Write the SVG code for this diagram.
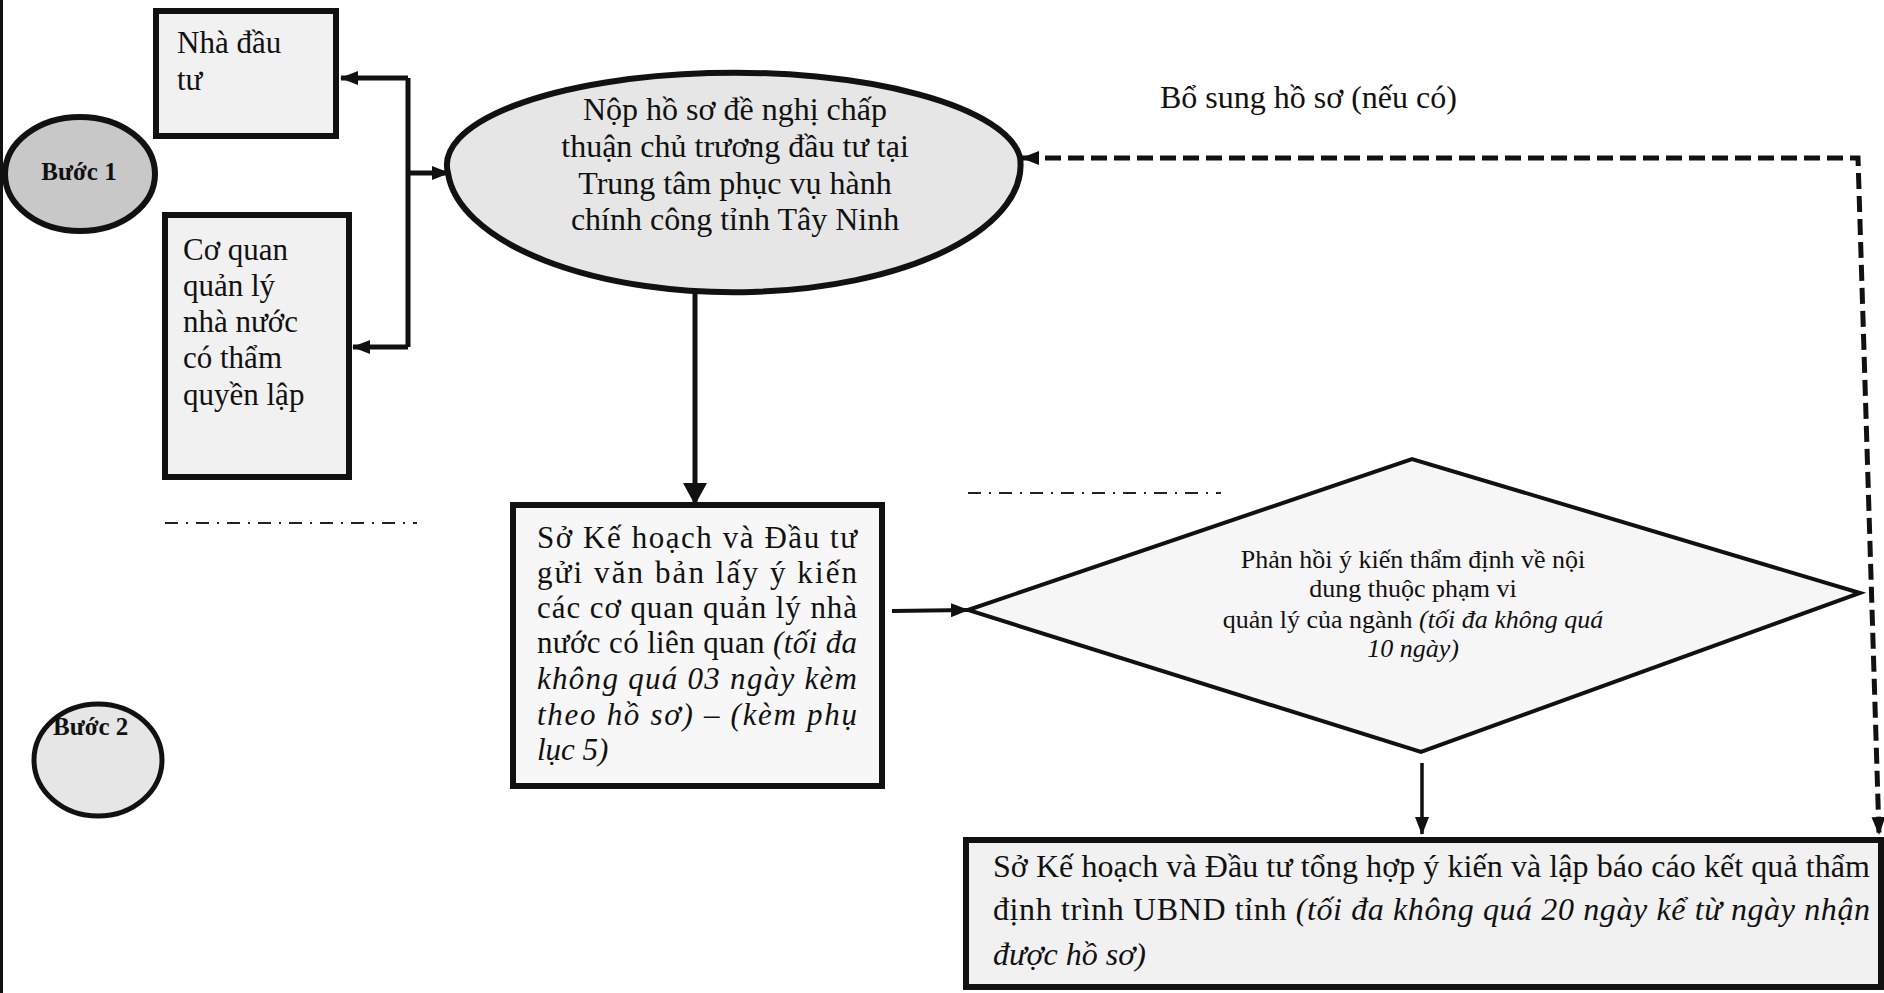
<svg xmlns="http://www.w3.org/2000/svg" width="1884" height="993" viewBox="0 0 1884 993">
  <defs>
    <style>
      .t { font-family: "Liberation Serif", "Times New Roman", serif; fill: #111; }
      .it { font-style: italic; }
      .b { font-weight: bold; }
      .box { fill: #f1f1f1; stroke: #111; stroke-width: 6; }
      .conn { fill: none; stroke: #111; }
      .dashed { fill: none; stroke: #111; stroke-width: 5; stroke-dasharray: 16 7; }
      .dashdot { fill: none; stroke: #222; stroke-width: 2; stroke-dasharray: 13 8 2 8; }
    </style>
    <marker id="arrow" viewBox="0 0 18 14" refX="17" refY="7" markerWidth="18" markerHeight="14" markerUnits="userSpaceOnUse" orient="auto-start-reverse">
      <path d="M0,0 L18,7 L0,14 Z" fill="#111"/>
    </marker>
    <marker id="arrowBig" viewBox="0 0 22 24" refX="21" refY="12" markerWidth="22" markerHeight="24" markerUnits="userSpaceOnUse" orient="auto">
      <path d="M0,0 L22,12 L0,24 Z" fill="#111"/>
    </marker>
  </defs>

  <rect x="0" y="0" width="1884" height="993" fill="#ffffff"/>
  <!-- page margin rule on the left -->
  <line x1="1.5" y1="0" x2="1.5" y2="993" stroke="#111" stroke-width="3"/>

  <!-- section separators -->
  <g id="separators">
    <line class="dashdot" x1="165" y1="523" x2="417" y2="523"/>
    <line class="dashdot" x1="968" y1="493" x2="1221" y2="493"/>
  </g>

  <g id="connectors">
    <!-- fork from the submission ellipse back to the two applicants -->
    <path class="conn" stroke-width="5" d="M408,78 L408,347"/>
    <path class="conn" stroke-width="5" d="M408,78 L341,78" marker-end="url(#arrow)"/>
    <path class="conn" stroke-width="5" d="M408,347 L353,347" marker-end="url(#arrow)"/>
    <path class="conn" stroke-width="5" d="M410,173 L449,173" marker-end="url(#arrow)"/>
    <!-- submission to the planning department -->
    <path class="conn" stroke-width="5" d="M695,292 L695,504" marker-end="url(#arrowBig)"/>
    <!-- request for opinions to the feedback step -->
    <path class="conn" stroke-width="4" d="M892,611 L968,610" marker-end="url(#arrow)"/>
    <!-- feedback to the summary report -->
    <path class="conn" stroke-width="3.5" d="M1422,763 L1422,834" marker-end="url(#arrow)"/>
    <!-- optional supplement loop -->
    <path class="dashed" d="M1022,158 L1858,158 L1879,834" marker-start="url(#arrow)" marker-end="url(#arrow)"/>
  </g>

  <g id="label-bo-sung">
    <text class="t" x="1160" y="108" font-size="32">Bổ sung hồ sơ (nếu có)</text>
  </g>

  <g id="step1">
    <ellipse cx="80" cy="174" rx="75" ry="57" fill="#c8c8c8" stroke="#111" stroke-width="6"/>
    <text class="t b" x="79" y="180" font-size="25" text-anchor="middle">Bước 1</text>
  </g>

  <g id="step2">
    <ellipse cx="98" cy="760" rx="64" ry="56" fill="#e6e6e6" stroke="#111" stroke-width="5"/>
    <text class="t b" x="53" y="735" font-size="25">Bước 2</text>
  </g>

  <g id="investor">
    <rect class="box" x="156" y="11" width="180" height="125"/>
    <text class="t" x="177" y="53" font-size="31">Nhà đầu</text>
    <text class="t" x="177" y="90" font-size="31">tư</text>
  </g>

  <g id="authority">
    <rect class="box" x="165" y="215" width="184" height="262"/>
    <text class="t" x="183" y="260" font-size="31">Cơ quan</text>
    <text class="t" x="183" y="296" font-size="31">quản lý</text>
    <text class="t" x="183" y="332" font-size="31">nhà nước</text>
    <text class="t" x="183" y="368" font-size="31">có thẩm</text>
    <text class="t" x="183" y="405" font-size="31">quyền lập</text>
  </g>

  <g id="submission">
    <path d="M448,173 A286,92 0 0 1 1020,157 A286,127 0 0 1 448,173 Z" fill="#e6e6e6" stroke="#111" stroke-width="6"/>
    <text class="t" x="735" y="120" font-size="32" text-anchor="middle">Nộp hồ sơ đề nghị chấp</text>
    <text class="t" x="735" y="157" font-size="32" text-anchor="middle">thuận chủ trương đầu tư tại</text>
    <text class="t" x="735" y="194" font-size="32" text-anchor="middle">Trung tâm phục vụ hành</text>
    <text class="t" x="735" y="230" font-size="32" text-anchor="middle">chính công tỉnh Tây Ninh</text>
  </g>

  <g id="request-opinions">
    <rect x="513" y="505" width="369" height="281" fill="#f7f7f7" stroke="#111" stroke-width="6"/>
    <text class="t" x="537" y="548" font-size="31" textLength="320" lengthAdjust="spacing">Sở Kế hoạch và Đầu tư</text>
    <text class="t" x="537" y="583" font-size="31" textLength="320" lengthAdjust="spacing">gửi văn bản lấy ý kiến</text>
    <text class="t" x="537" y="618" font-size="31" textLength="320" lengthAdjust="spacing">các cơ quan quản lý nhà</text>
    <text class="t" x="537" y="653" font-size="31" textLength="320" lengthAdjust="spacing">nước có liên quan <tspan class="it">(tối đa</tspan></text>
    <text class="t it" x="537" y="689" font-size="31" textLength="320" lengthAdjust="spacing">không quá 03 ngày kèm</text>
    <text class="t it" x="537" y="725" font-size="31" textLength="320" lengthAdjust="spacing">theo hồ sơ) – (kèm phụ</text>
    <text class="t it" x="537" y="760" font-size="31">lục 5)</text>
  </g>

  <g id="feedback">
    <polygon points="968,610 1412,459 1860,593 1421,752" fill="#f6f6f6" stroke="#111" stroke-width="4"/>
    <text class="t" x="1413" y="568" font-size="26" text-anchor="middle">Phản hồi ý kiến thẩm định về nội</text>
    <text class="t" x="1413" y="597" font-size="26" text-anchor="middle">dung thuộc phạm vi</text>
    <text class="t" x="1413" y="628" font-size="26" text-anchor="middle">quản lý của ngành <tspan class="it">(tối đa không quá</tspan></text>
    <text class="t it" x="1413" y="657" font-size="26" text-anchor="middle">10 ngày)</text>
  </g>

  <g id="summary-report">
    <rect x="966" y="840" width="915" height="147" fill="#f1f1f1" stroke="#111" stroke-width="6"/>
    <text class="t" x="993" y="877" font-size="32" textLength="877" lengthAdjust="spacing">Sở Kế hoạch và Đầu tư tổng hợp ý kiến và lập báo cáo kết quả thẩm</text>
    <text class="t" x="993" y="920" font-size="32" textLength="877" lengthAdjust="spacing">định trình UBND tỉnh <tspan class="it">(tối đa không quá 20 ngày kể từ ngày nhận</tspan></text>
    <text class="t it" x="993" y="965" font-size="32">được hồ sơ)</text>
  </g>
</svg>
